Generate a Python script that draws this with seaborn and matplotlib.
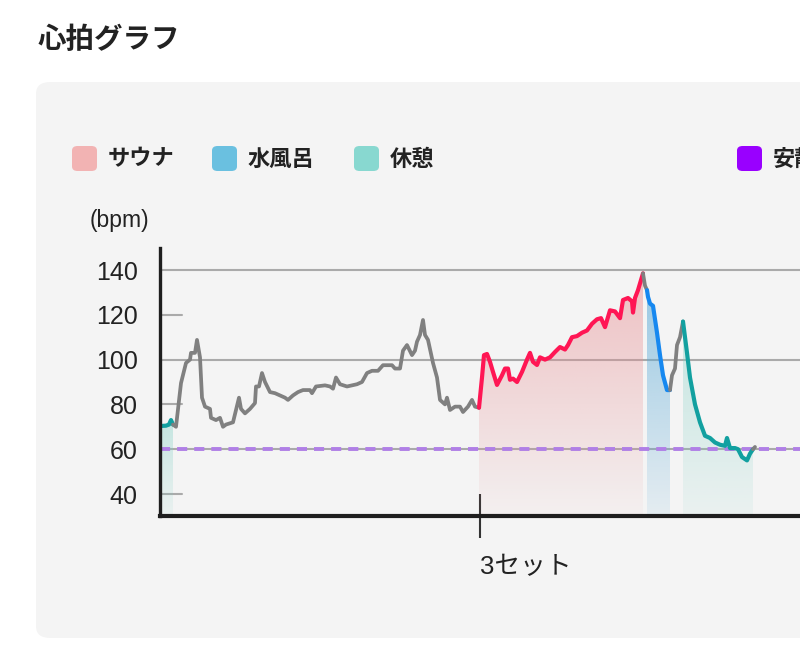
import numpy as np
import matplotlib
matplotlib.use("Agg")
import matplotlib.pyplot as plt
import seaborn as sns
from matplotlib.patches import FancyBboxPatch
from matplotlib.colors import to_rgb

sns.set_style("white")
plt.rcParams['font.family'] = ['Liberation Sans', 'Noto Sans CJK JP', 'DejaVu Sans']

# ---------------- data ----------------
title = "心拍グラフ"
legend_labels = ["サウナ", "水風呂", "休憩", "安静時心拍"]
legend_colors = ["#f2b3b3", "#6ac0e0", "#88d8d0", "#9900ff"]
y_unit = "(bpm)"
y_ticks = [40, 60, 80, 100, 120, 140]
y_full_grid = [60, 100, 140]
y_short_grid = [40, 80, 120]
resting_hr = 60
set_tick_pos = [320]
set_tick_labels = ["3セット"]

t = [2, 6, 9, 11, 13,
     16, 21, 26, 30, 31, 35, 37, 40, 42, 45, 50, 51, 56, 60, 63, 66, 73, 76, 79, 81,
     85, 90, 95, 96, 99, 102, 105, 110, 115, 120, 125, 128, 133, 138, 143, 150, 152,
     156, 165, 170, 173, 176, 180, 187, 192, 197, 202, 207, 212, 218, 223, 232, 235,
     240, 243, 247, 252, 255, 257, 260, 263, 265, 268, 273, 277, 280, 285, 287, 290,
     295, 300, 303, 308, 312, 315, 319,
     320, 322, 324, 327, 330, 333, 337, 342, 345, 348, 350, 353, 357, 362, 367, 370,
     373, 377, 380, 385, 390, 395, 400, 405, 408, 412, 417, 422, 427, 432, 437, 441,
     445, 450, 455, 460, 463, 468, 472, 473, 475, 478, 482, 483,
     485, 487,
     488, 490, 493, 497, 500, 503, 507, 510,
     512, 515, 517, 520, 523,
     527, 530, 535, 540, 545, 550, 555, 560, 565, 567, 570, 575, 578, 582, 587, 590, 593,
     595]
hr = [70.4, 70.5, 71, 73, 71,
      70, 89.5, 98.5, 100, 103, 103, 108.8, 101, 83, 79, 78, 74, 73, 74, 70, 71, 72, 77.5, 83, 78,
      76, 78, 80.6, 88, 88, 94, 90, 85.5, 85, 84, 83, 82, 84, 85.5, 86.4, 86.4, 85,
      88, 88.5, 88, 87, 92, 89, 88, 88.5, 89, 90, 94, 95, 95, 97.5, 97.5, 96,
      96, 104, 106.5, 102, 104, 108, 111, 117.7, 111, 108.8, 98.5, 92, 82, 80, 83, 77.5,
      79, 79, 76.6, 79, 82, 79, 78.5,
      83, 92, 102, 102.5, 99, 94.5, 88.7, 93, 96, 96, 91, 91.5, 90, 94.5, 100, 103,
      99, 97.6, 101, 100, 101, 103.4, 105.6, 104.5, 106.5, 110, 110.5, 112, 113, 116, 118, 118.5,
      114.5, 122, 121.5, 118.5, 126.6, 127.5, 126, 121, 127.5, 131, 137, 138.5,
      133, 131,
      128, 125, 124, 112, 102, 93, 86.4, 86.4,
      93, 96, 106.5, 110, 117,
      103, 92, 80, 72, 66, 65, 63, 62, 61.5, 65, 60.5, 60.5, 60, 56.5, 55, 58, 60,
      61]
phase = (["rest"] * 5 + ["idle"] * 76 + ["sauna"] * 44 + ["idle"] * 2 +
         ["water"] * 8 + ["idle"] * 5 + ["rest"] * 17 + ["idle"] * 1)

t = np.array(t, float)
hr = np.array(hr, float)

line_colors = {"idle": "#808080", "sauna": "#ff1654", "water": "#1688f0", "rest": "#12a0a0"}
fill_style = {"sauna": ("#e88c90", 0.5, 0.04),
              "water": ("#5aaad8", 0.58, 0.10),
              "rest": ("#7dd0c4", 0.4, 0.08)}

Y0, Y1 = 30, 150
X0, X1 = 0, 640

# ---------------- figure ----------------
fig = plt.figure(figsize=(8, 6.5), dpi=100, facecolor="white")
W, H = 800, 650

panel = FancyBboxPatch((36 / W, 1 - 638 / H), (830 - 36) / W, (638 - 82) / H,
                       boxstyle="round,pad=0,rounding_size=0.018",
                       transform=fig.transFigure, facecolor="#f4f4f4",
                       edgecolor="none", zorder=-5)
fig.patches.append(panel)

fig.text(38 / W, 1 - 40 / H, title, fontsize=20.5, fontweight="bold",
         family=['Noto Sans CJK JP'], va="center", ha="left", color="#222222")

leg_x = [72, 212, 354, 737]
for lx, lab, col in zip(leg_x, legend_labels, legend_colors):
    sq = FancyBboxPatch((lx / W, 1 - 171 / H), 25 / W, 25 / H,
                        boxstyle="round,pad=0,rounding_size=0.007",
                        transform=fig.transFigure, facecolor=col,
                        edgecolor="none", zorder=-4)
    fig.patches.append(sq)
    fig.text((lx + 36) / W, 1 - 159 / H, lab, fontsize=16, fontweight="bold",
             family=['Noto Sans CJK JP'], va="center", ha="left", color="#222222")

fig.text(90 / W, 1 - 220 / H, y_unit, fontsize=16.5, va="center", ha="left", color="#222222")

ax = fig.add_axes([160 / W, 1 - 516.4 / H, (800 - 160) / W, (516.4 - 247.6) / H])
ax.set_facecolor("none")
ax.set_zorder(1)

# grid lines
for g in y_full_grid:
    ax.axhline(g, color="#aaaaaa", lw=1.5, zorder=1)
for g in y_short_grid:
    ax.plot([0, 22 / 640], [g, g], transform=ax.get_yaxis_transform(),
            color="#aaaaaa", lw=1.5, zorder=1, clip_on=False)

ax.axhline(resting_hr, color="#b07fe6", lw=2.8, ls=(0, (2.6, 1.8)), zorder=2)

# runs by phase
runs = []
start = 0
for i in range(1, len(phase) + 1):
    if i == len(phase) or phase[i] != phase[start]:
        runs.append((start, i, phase[start]))
        start = i

for s, e, p in runs:
    a = max(s - 1, 0)
    ts, ys = t[a:e], hr[a:e]
    if p in fill_style:
        col, at, ab = fill_style[p]
        poly = ax.fill_between(ts, ys, Y0, facecolor="none", edgecolor="none")
        n = 256
        img = np.zeros((n, 1, 4))
        img[..., :3] = to_rgb(col)
        img[:, 0, 3] = np.linspace(ab, at, n)
        im = ax.imshow(img, extent=[ts.min(), ts.max(), Y0, ys.max()], origin="lower",
                       aspect="auto", zorder=1.5, interpolation="bilinear")
        im.set_clip_path(poly.get_paths()[0], transform=ax.transData)
    sns.lineplot(x=ts, y=ys, color=line_colors[p], lw=3.0 if p != "idle" else 2.7,
                 ax=ax, estimator=None, sort=False, zorder=3)

ax.set_xlim(X0, X1)
ax.set_ylim(Y0, Y1)
ax.set_aspect("auto")

for side in ["top", "right"]:
    ax.spines[side].set_visible(False)
ax.spines["left"].set_linewidth(2.4)
ax.spines["left"].set_color("#1e1e1e")
ax.spines["bottom"].set_linewidth(3)
ax.spines["bottom"].set_color("#1e1e1e")
ax.spines["left"].set_zorder(4)
ax.spines["bottom"].set_zorder(4)

ax.set_yticks(y_ticks)
ax.set_yticklabels([str(v) for v in y_ticks])
ax.tick_params(axis="y", left=False, length=0, pad=16, labelsize=18, labelcolor="#222222")

ax.set_xticks(set_tick_pos)
ax.set_xticklabels(set_tick_labels)
ax.tick_params(axis="x", bottom=True, direction="inout", length=32, width=1.5, color="#333333",
               pad=12, labelsize=18.5, labelcolor="#222222")
for lbl in ax.get_xticklabels():
    lbl.set_horizontalalignment("left")

ax.set_xlabel("")
ax.set_ylabel("")

fig.savefig("out.png", dpi=100, facecolor="white")
